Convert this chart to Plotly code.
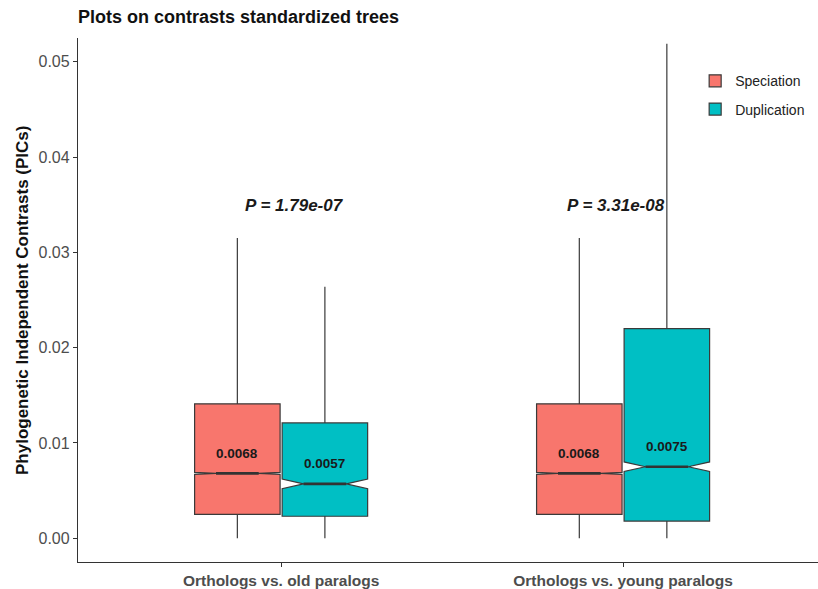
import plotly.graph_objects as go

# Comparison groups on the x axis
groups = ["Orthologs vs. old paralogs", "Orthologs vs. young paralogs"]
group_pos = [1, 2]

# Box summary statistics: Speciation
spec_lower = [0.0, 0.0]
spec_q1 = [0.0025, 0.0025]
spec_median = [0.0068, 0.0068]
spec_q3 = [0.0141, 0.0141]
spec_upper = [0.0315, 0.0315]
spec_notch = [0.0001, 0.0001]

# Box summary statistics: Duplication
dup_lower = [0.0, 0.0]
dup_q1 = [0.0023, 0.0018]
dup_median = [0.0057, 0.0075]
dup_q3 = [0.0121, 0.0220]
dup_upper = [0.0264, 0.0519]
dup_notch = [0.0005, 0.0005]

# Significance labels
p_labels = ["P = 1.79e-07", "P = 3.31e-08"]
p_x = [1.04, 1.98]
p_y = [0.0349, 0.0349]

# Y ticks
y_tickvals = [0.0, 0.01, 0.02, 0.03, 0.04, 0.05]
y_ticktext = ["0.00", "0.01", "0.02", "0.03", "0.04", "0.05"]

DODGE = 0.128
BOX_W = 0.25
NOTCH_W = 0.25
LINE_COL = "#3a3a3a"
FONT = "Liberation Sans, Arial, sans-serif"

series = [
    ("Speciation", "#F8766D", -1, spec_lower, spec_q1, spec_median, spec_q3, spec_upper, spec_notch),
    ("Duplication", "#00BFC4", 1, dup_lower, dup_q1, dup_median, dup_q3, dup_upper, dup_notch),
]

fig = go.Figure()
annotations = []

for name, color, side, lo, q1, med, q3, hi, notch in series:
    xs = [g + side * DODGE for g in group_pos]
    fig.add_trace(go.Box(
        name=name, legendgroup=name,
        x=xs, q1=q1, median=med, q3=q3, lowerfence=lo, upperfence=hi,
        notched=True, notchspan=notch, notchwidth=NOTCH_W,
        width=BOX_W, whiskerwidth=0, boxpoints=False,
        fillcolor=color, line=dict(color=LINE_COL, width=1.2),
        hoverinfo="skip",
    ))
    # thicker median segment, spanning the notch waist
    half = BOX_W / 2 * (1 - 2 * NOTCH_W)
    mx, my = [], []
    for x, m in zip(xs, med):
        mx += [x - half, x + half, None]
        my += [m, m, None]
    fig.add_trace(go.Scatter(
        x=mx, y=my, mode="lines", line=dict(color="#333333", width=2.6),
        showlegend=False, hoverinfo="skip", legendgroup=name,
    ))
    for x, m in zip(xs, med):
        annotations.append(dict(
            x=x, y=m, xref="x", yref="y", text=f"{m:.4f}", showarrow=False,
            yshift=20, font=dict(family=FONT, size=13.5, color="#1a1a1a", weight="bold"),
        ))

for t, x, y in zip(p_labels, p_x, p_y):
    annotations.append(dict(
        x=x, y=y, xref="x", yref="y", text=f"<b><i>{t}</i></b>", showarrow=False,
        font=dict(family=FONT, size=17, color="#1a1a1a"),
    ))

annotations.append(dict(
    x=(22 - 78) / 740, y=0.5, xref="paper", yref="paper",
    text="<b>Phylogenetic Independent Contrasts (PICs)</b>", textangle=-90,
    showarrow=False, xanchor="center", yanchor="middle",
    font=dict(family=FONT, size=17, color="#111111"),
))

fig.update_layout(
    width=818, height=589,
    margin=dict(l=78, r=0, t=38, b=27),
    paper_bgcolor="white", plot_bgcolor="white",
    font=dict(family=FONT),
    title=dict(
        text="<b>Plots on contrasts standardized trees</b>",
        x=78 / 818, xanchor="left", xref="container",
        y=1 - 17 / 589, yanchor="middle", yref="container",
        font=dict(family=FONT, size=18, color="#111111"),
    ),
    boxmode="overlay",
    showlegend=True,
    legend=dict(
        x=0.834, y=0.948, xanchor="left", yanchor="top",
        font=dict(family=FONT, size=14, color="#222222"),
        bgcolor="rgba(0,0,0,0)", tracegroupgap=7,
    ),
    xaxis=dict(
        range=[0.406, 2.57], tickvals=group_pos, ticktext=groups,
        showline=True, linecolor="#333333", linewidth=1.3,
        ticks="outside", ticklen=4, tickcolor="#333333",
        tickfont=dict(family=FONT, size=15.5, color="#4d4d4d", weight="bold"),
        showgrid=False, zeroline=False,
    ),
    yaxis=dict(
        range=[-0.0025, 0.0525], tickvals=y_tickvals, ticktext=y_ticktext,
        showline=True, linecolor="#333333", linewidth=1.3,
        ticks="outside", ticklen=4, tickcolor="#333333",
        tickfont=dict(family=FONT, size=16, color="#4d4d4d"),
        showgrid=False, zeroline=False,
    ),
    annotations=annotations,
)

fig.write_html("out.html")
